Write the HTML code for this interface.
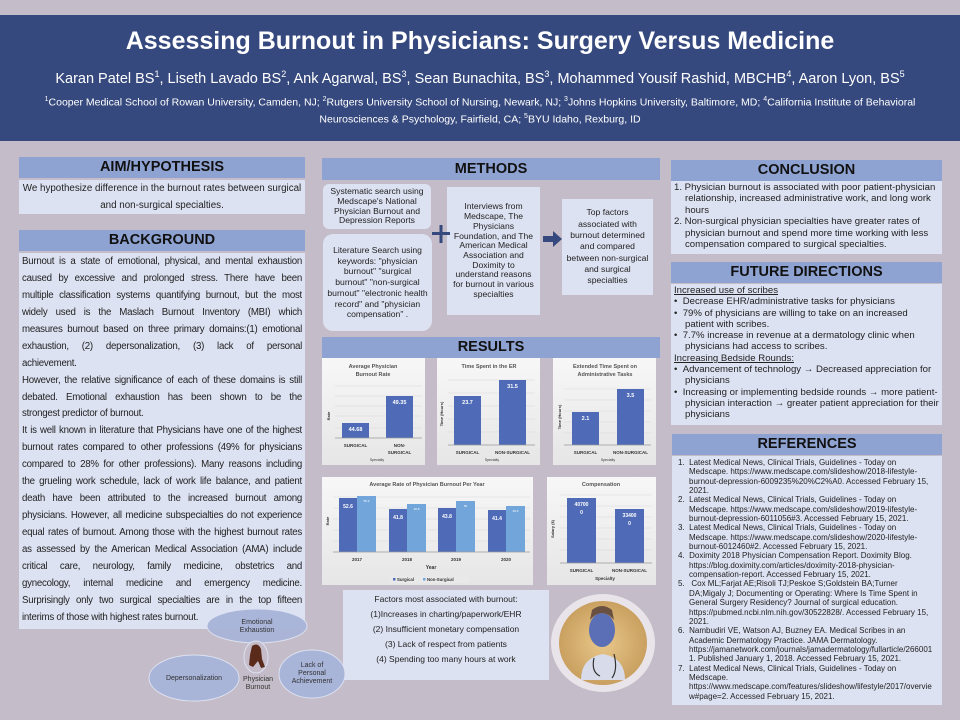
<!DOCTYPE html>
<html><head><meta charset="utf-8">
<style>
*{margin:0;padding:0;box-sizing:border-box}
body{width:960px;height:720px;background:#c4bcc8;position:relative;overflow:hidden;font-family:"Liberation Sans",Arial,sans-serif;color:#222}
.a{position:absolute}
.hdr{background:#8fa3d2;color:#111;font-weight:bold;text-align:center}
.box{background:#dde2f2}
.bg div{text-align:justify;text-align-last:justify;height:16.95px;line-height:16.95px;white-space:nowrap;overflow:hidden}
.bg div.l{text-align-last:left}
.m{background:#dde2f2;text-align:center;font-size:8.6px;line-height:9.7px;display:flex;align-items:center;justify-content:center}
</style></head><body>
<div class="a" style="left:0;top:15px;width:960px;height:126px;background:#36497e;color:#fff;text-align:center">
 <div style="position:absolute;top:12px;width:960px;font-size:25px;font-weight:bold">Assessing Burnout in Physicians: Surgery Versus Medicine</div>
 <div style="position:absolute;top:54px;width:960px;font-size:14.5px">Karan Patel BS<sup style="font-size:9px">1</sup>, Liseth Lavado BS<sup style="font-size:9px">2</sup>, Ank Agarwal, BS<sup style="font-size:9px">3</sup>, Sean Bunachita, BS<sup style="font-size:9px">3</sup>, Mohammed Yousif Rashid, MBCHB<sup style="font-size:9px">4</sup>, Aaron Lyon, BS<sup style="font-size:9px">5</sup></div>
 <div style="position:absolute;top:78px;width:960px;font-size:10.5px;line-height:14px"><sup style="font-size:7px">1</sup>Cooper Medical School of Rowan University, Camden, NJ; <sup style="font-size:7px">2</sup>Rutgers University School of Nursing, Newark, NJ; <sup style="font-size:7px">3</sup>Johns Hopkins University, Baltimore, MD; <sup style="font-size:7px">4</sup>California Institute of Behavioral<br>Neurosciences &amp; Psychology, Fairfield, CA; <sup style="font-size:7px">5</sup>BYU Idaho, Rexburg, ID</div>
</div>

<!-- left -->
<div class="a hdr" style="left:19px;top:157px;width:286px;height:21px;font-size:14.5px;line-height:21px">AIM/HYPOTHESIS</div>
<div class="a box" style="left:19px;top:180px;width:286px;height:34px;font-size:9.8px;text-align:center;line-height:17px;white-space:nowrap">We hypothesize difference in the burnout rates between surgical<br>and non-surgical specialties.</div>
<div class="a hdr" style="left:19px;top:230px;width:286px;height:21px;font-size:14.5px;line-height:21px">BACKGROUND</div>
<div class="a box bg" style="left:19px;top:253px;width:286px;height:376px;font-size:9.7px;letter-spacing:-0.25px;padding:1px 3px">
<div>Burnout is a state of emotional, physical, and mental exhaustion</div>
<div>caused by excessive and prolonged stress. There have been</div>
<div>multiple classification systems quantifying burnout, but the most</div>
<div>widely used is the Maslach Burnout Inventory (MBI) which</div>
<div>measures burnout based on three primary domains:(1) emotional</div>
<div>exhaustion, (2) depersonalization, (3) lack of personal</div>
<div class="l">achievement.</div>
<div>However, the relative significance of each of these domains is still</div>
<div>debated. Emotional exhaustion has been shown to be the</div>
<div class="l">strongest predictor of burnout.</div>
<div>It is well known in literature that Physicians have one of the highest</div>
<div>burnout rates compared to other professions (49% for physicians</div>
<div>compared to 28% for other professions). Many reasons including</div>
<div>the grueling work schedule, lack of work life balance, and patient</div>
<div>death have been attributed to the increased burnout among</div>
<div>physicians. However, all medicine subspecialties do not experience</div>
<div>equal rates of burnout. Among those with the highest burnout rates</div>
<div>as assessed by the American Medical Association (AMA) include</div>
<div>critical care, neurology, family medicine, obstetrics and</div>
<div>gynecology, internal medicine and emergency medicine.</div>
<div>Surprisingly only two surgical specialties are in the top fifteen</div>
<div class="l">interims of those with highest rates burnout.</div>
</div>

<!-- middle -->
<div class="a hdr" style="left:322px;top:158px;width:338px;height:22px;font-size:14.5px;line-height:22px">METHODS</div>
<div class="a m" style="left:323px;top:184px;width:108px;height:45px;border-radius:6px">Systematic search using<br>Medscape's National<br>Physician Burnout and<br>Depression Reports</div>
<div class="a m" style="left:323px;top:234px;width:109px;height:97px;border-radius:10px;line-height:10.7px">Literature Search using<br>keywords: "physician<br>burnout" "surgical<br>burnout" "non-surgical<br>burnout" "electronic health<br>record" and "physician<br>compensation" .</div>
<div class="a m" style="left:447px;top:187px;width:93px;height:128px">Interviews from<br>Medscape, The<br>Physicians<br>Foundation, and The<br>American Medical<br>Association and<br>Doximity to<br>understand reasons<br>for burnout in various<br>specialties</div>
<div class="a m" style="left:562px;top:199px;width:91px;height:96px;line-height:11.3px">Top factors<br>associated with<br>burnout determined<br>and compared<br>between non-surgical<br>and surgical<br>specialties</div>
<div class="a hdr" style="left:322px;top:337px;width:338px;height:21px;font-size:14.5px;line-height:21px">RESULTS</div>
<div class="a box" style="left:343px;top:590px;width:206px;height:90px;font-size:8.5px;text-align:center;line-height:15px;padding-top:2px">Factors most associated with burnout:<br>(1)Increases in charting/paperwork/EHR<br>(2) Insufficient monetary compensation<br>(3) Lack of respect from patients<br>(4) Spending too many hours at work</div>

<svg class="a" style="left:0;top:0" width="960" height="720" font-family="Liberation Sans, Arial, sans-serif">
<defs><linearGradient id="g" x1="0" y1="0" x2="0" y2="1"><stop offset="0" stop-color="#f7f7f7"/><stop offset="1" stop-color="#e6e6e6"/></linearGradient>
<radialGradient id="fire" cx="0.5" cy="0.5" r="0.5"><stop offset="0" stop-color="#e9c88a"/><stop offset="1" stop-color="#c9a060"/></radialGradient></defs>
<rect x="432" y="232" width="18" height="3" fill="#36497e"/><rect x="439.5" y="225" width="3" height="18" fill="#36497e"/>
<polygon points="543,236 553,236 553,231 562,239 553,247 553,242 543,242" fill="#36497e"/>
<g font-weight="bold" fill="#333">
<rect x="322" y="358" width="103" height="107" fill="url(#g)"/>
<g stroke="#d8d8d8" stroke-width="0.6"><line x1="335" y1="386" x2="422" y2="386"/><line x1="335" y1="396" x2="422" y2="396"/><line x1="335" y1="406" x2="422" y2="406"/><line x1="335" y1="416" x2="422" y2="416"/><line x1="335" y1="428" x2="422" y2="428"/></g>
<text x="373" y="368" font-size="5.5" text-anchor="middle" fill="#555">Average Physician</text>
<text x="373" y="376" font-size="5.5" text-anchor="middle" fill="#555">Burnout Rate</text>
<rect x="342" y="423" width="27" height="15" fill="#4f6bb8"/><rect x="386" y="396" width="27" height="42" fill="#4f6bb8"/>
<line x1="335" y1="438" x2="422" y2="438" stroke="#999" stroke-width="0.7"/>
<text x="355.5" y="431" font-size="5.5" fill="#fff" text-anchor="middle">44.68</text>
<text x="399.5" y="404" font-size="5.5" fill="#fff" text-anchor="middle">49.35</text>
<text x="355.5" y="447" font-size="4.5" text-anchor="middle">SURGICAL</text>
<text x="399.5" y="447" font-size="4.5" text-anchor="middle">NON-</text><text x="399.5" y="454" font-size="4.5" text-anchor="middle">SURGICAL</text>
<text x="377" y="461" font-size="3.5" text-anchor="middle" font-weight="normal">Specialty</text>
<text transform="translate(330,416) rotate(-90)" font-size="4" text-anchor="middle">Rate</text>
<rect x="437" y="358" width="103" height="107" fill="url(#g)"/>
<g stroke="#d8d8d8" stroke-width="0.6"><line x1="448" y1="380" x2="535" y2="380"/><line x1="448" y1="393" x2="535" y2="393"/><line x1="448" y1="406" x2="535" y2="406"/><line x1="448" y1="419" x2="535" y2="419"/><line x1="448" y1="432" x2="535" y2="432"/></g>
<text x="489" y="368" font-size="5.5" text-anchor="middle" fill="#555">Time Spent in the ER</text>
<rect x="454" y="396" width="27" height="49" fill="#4f6bb8"/><rect x="499" y="380" width="27" height="65" fill="#4f6bb8"/>
<line x1="448" y1="445" x2="535" y2="445" stroke="#999" stroke-width="0.7"/>
<text x="467.5" y="404" font-size="5.5" fill="#fff" text-anchor="middle">23.7</text>
<text x="512.5" y="388" font-size="5.5" fill="#fff" text-anchor="middle">31.5</text>
<text x="467.5" y="454" font-size="4.5" text-anchor="middle">SURGICAL</text>
<text x="512.5" y="454" font-size="4.5" text-anchor="middle">NON-SURGICAL</text>
<text x="492" y="461" font-size="3.5" text-anchor="middle" font-weight="normal">Specialty</text>
<text transform="translate(443,414) rotate(-90)" font-size="4" text-anchor="middle">Time (Hours)</text>
<rect x="553" y="358" width="103" height="107" fill="url(#g)"/>
<g stroke="#d8d8d8" stroke-width="0.6"><line x1="564" y1="389" x2="651" y2="389"/><line x1="564" y1="400" x2="651" y2="400"/><line x1="564" y1="411" x2="651" y2="411"/><line x1="564" y1="422" x2="651" y2="422"/><line x1="564" y1="433" x2="651" y2="433"/></g>
<text x="605" y="368" font-size="5.5" text-anchor="middle" fill="#555">Extended Time Spent on</text>
<text x="605" y="376" font-size="5.5" text-anchor="middle" fill="#555">Administrative Tasks</text>
<rect x="572" y="412" width="27" height="33" fill="#4f6bb8"/><rect x="617" y="389" width="27" height="56" fill="#4f6bb8"/>
<line x1="564" y1="445" x2="651" y2="445" stroke="#999" stroke-width="0.7"/>
<text x="585.5" y="420" font-size="5.5" fill="#fff" text-anchor="middle">2.1</text>
<text x="630.5" y="397" font-size="5.5" fill="#fff" text-anchor="middle">3.5</text>
<text x="585.5" y="454" font-size="4.5" text-anchor="middle">SURGICAL</text>
<text x="630.5" y="454" font-size="4.5" text-anchor="middle">NON-SURGICAL</text>
<text x="608" y="461" font-size="3.5" text-anchor="middle" font-weight="normal">Specialty</text>
<text transform="translate(561,417) rotate(-90)" font-size="4" text-anchor="middle">Time (Hours)</text>
<rect x="322" y="477" width="211" height="108" fill="url(#g)"/>
<g stroke="#d8d8d8" stroke-width="0.6"><line x1="333" y1="497" x2="530" y2="497"/><line x1="333" y1="508" x2="530" y2="508"/><line x1="333" y1="519" x2="530" y2="519"/><line x1="333" y1="530" x2="530" y2="530"/><line x1="333" y1="541" x2="530" y2="541"/></g>
<text x="427" y="486" font-size="5.5" text-anchor="middle" fill="#555">Average Rate of Physician Burnout Per Year</text>
<g fill="#4f6bb8"><rect x="339" y="498" width="18" height="54"/><rect x="389" y="509" width="18" height="43"/><rect x="438" y="508" width="18" height="44"/><rect x="488" y="510" width="18" height="42"/></g>
<g fill="#72a6da"><rect x="357" y="496" width="19" height="56"/><rect x="407" y="504" width="19" height="48"/><rect x="456" y="501" width="19" height="51"/><rect x="506" y="506" width="19" height="46"/></g>
<line x1="333" y1="552" x2="530" y2="552" stroke="#999" stroke-width="0.7"/>
<g font-size="5" fill="#fff" text-anchor="middle"><text x="348" y="508">52.6</text><text x="398" y="519">41.8</text><text x="447" y="518">43.8</text><text x="497" y="520">41.4</text></g>
<g font-size="3" fill="#fff" text-anchor="middle" font-weight="normal"><text x="366.5" y="502">55.2</text><text x="416.5" y="510">46.8</text><text x="465.5" y="507">50</text><text x="515.5" y="512">45.6</text></g>
<g font-size="4.5" text-anchor="middle"><text x="357" y="561">2017</text><text x="407" y="561">2018</text><text x="456" y="561">2019</text><text x="506" y="561">2020</text></g>
<text x="431" y="569" font-size="5" text-anchor="middle">Year</text>
<rect x="389" y="575" width="80" height="8" fill="#e9e9e9"/>
<rect x="393" y="578" width="2.5" height="2.5" fill="#4f6bb8"/><text x="397" y="581" font-size="4.3">Surgical</text>
<rect x="423" y="578" width="2.5" height="2.5" fill="#72a6da"/><text x="427" y="581" font-size="4.3">Non-Surgical</text>
<text transform="translate(329,521) rotate(-90)" font-size="4" text-anchor="middle">Rate</text>
<rect x="547" y="477" width="109" height="108" fill="url(#g)"/>
<g stroke="#d8d8d8" stroke-width="0.6"><line x1="560" y1="495" x2="652" y2="495"/><line x1="560" y1="506" x2="652" y2="506"/><line x1="560" y1="517" x2="652" y2="517"/><line x1="560" y1="528" x2="652" y2="528"/><line x1="560" y1="539" x2="652" y2="539"/><line x1="560" y1="550" x2="652" y2="550"/></g>
<text x="601" y="486" font-size="5.5" text-anchor="middle" fill="#555">Compensation</text>
<rect x="567" y="498" width="29" height="65" fill="#4f6bb8"/><rect x="615" y="509" width="29" height="54" fill="#4f6bb8"/>
<line x1="560" y1="563" x2="652" y2="563" stroke="#999" stroke-width="0.7"/>
<g font-size="5" fill="#fff" text-anchor="middle"><text x="581.5" y="506">40700</text><text x="581.5" y="514">0</text><text x="629.5" y="517">33400</text><text x="629.5" y="525">0</text></g>
<text x="581.5" y="572" font-size="4.5" text-anchor="middle">SURGICAL</text>
<text x="629.5" y="572" font-size="4.5" text-anchor="middle">NON-SURGICAL</text>
<text x="605" y="580" font-size="4.5" text-anchor="middle">Specialty</text>
<text transform="translate(554,529) rotate(-90)" font-size="4" text-anchor="middle">Salary ($)</text>
</g>
<g font-size="7" fill="#333" text-anchor="middle">
<ellipse cx="257" cy="626" rx="50" ry="17" fill="#a8b4d8" stroke="#dde2f2" stroke-width="1" opacity="0.95"/>
<text x="257" y="624">Emotional</text><text x="257" y="632">Exhaustion</text>
<ellipse cx="194" cy="678" rx="45" ry="23" fill="#a8b4d8" stroke="#dde2f2"/>
<text x="194" y="680">Depersonalization</text>
<ellipse cx="312" cy="674" rx="33" ry="24" fill="#a8b4d8" stroke="#dde2f2"/>
<text x="312" y="667">Lack of</text><text x="312" y="675">Personal</text><text x="312" y="683">Achievement</text>
<ellipse cx="256" cy="657" rx="12" ry="16" fill="#c4bcc8" stroke="#dde2f2"/>
<path d="M252,646 q6,-4 9,3 l1,10 l3,8 l-4,1 l-3,-7 l-5,6 l-4,-2 l1,-10z" fill="#5a2a1a"/>
<text x="258" y="681">Physician</text><text x="258" y="689">Burnout</text>
<ellipse cx="603" cy="643" rx="52" ry="49" fill="#e8e4ea"/>
<ellipse cx="603" cy="643" rx="44" ry="42" fill="url(#fire)"/>
<path d="M581,680 q0,-22 22,-26 q22,4 22,26z" fill="#d8dcea"/>
<ellipse cx="602" cy="630" rx="13" ry="17" fill="#5a6fb5"/>
<path d="M590,620 q12,-14 24,0 l-2,-10 q-10,-8 -20,0z" fill="#6a5040"/>
<path d="M594,658 q-3,14 6,18 M614,654 q4,16 -2,24" stroke="#333" stroke-width="1.2" fill="none"/>
</g>
</svg>

<!-- right -->
<div class="a hdr" style="left:671px;top:160px;width:271px;height:21px;font-size:14.5px;line-height:21px">CONCLUSION</div>
<div class="a box" style="left:671px;top:181px;width:271px;height:73px;font-size:9.6px;line-height:11.4px;padding:1px 3px 0 3px">
<div style="padding-left:11px;text-indent:-11px">1. Physician burnout is associated with poor patient-physician relationship, increased administrative work, and long work hours</div>
<div style="padding-left:11px;text-indent:-11px">2. Non-surgical physician specialties have greater rates of physician burnout and spend more time working with less compensation compared to surgical specialties.</div>
</div>
<div class="a hdr" style="left:671px;top:262px;width:271px;height:21px;font-size:14.5px;line-height:21px">FUTURE DIRECTIONS</div>
<div class="a box" style="left:671px;top:284px;width:271px;height:141px;font-size:9.6px;line-height:11.3px;padding:1px 3px 0 3px">
<div style="text-decoration:underline">Increased use of scribes </div>
<div style="padding-left:11px;text-indent:-11px">•&nbsp;&nbsp;Decrease EHR/administrative tasks for physicians</div>
<div style="padding-left:11px;text-indent:-11px">•&nbsp;&nbsp;79% of physicians are willing to take on an increased patient with scribes.</div>
<div style="padding-left:11px;text-indent:-11px">•&nbsp;&nbsp;7.7% increase in revenue at a dermatology clinic when physicians had access to scribes.</div>
<div style="text-decoration:underline">Increasing Bedside Rounds:</div>
<div style="padding-left:11px;text-indent:-11px">•&nbsp;&nbsp;Advancement of technology → Decreased appreciation for physicians</div>
<div style="padding-left:11px;text-indent:-11px">•&nbsp;&nbsp;Increasing or implementing bedside rounds → more patient-physician interaction → greater patient appreciation for their physicians</div>
</div>
<div class="a hdr" style="left:672px;top:434px;width:270px;height:21px;font-size:14.5px;line-height:21px">REFERENCES</div>
<div class="a box" style="left:672px;top:456px;width:270px;height:249px;font-size:8px;line-height:9.35px;padding:2px 6px 0 3px;overflow-wrap:anywhere">
<div style="padding-left:14px;text-indent:-11px">1.&nbsp; Latest Medical News, Clinical Trials, Guidelines - Today on Medscape. https://www.medscape.com/slideshow/2018-lifestyle-burnout-depression-6009235%20%C2%A0. Accessed February 15, 2021.</div>
<div style="padding-left:14px;text-indent:-11px">2.&nbsp; Latest Medical News, Clinical Trials, Guidelines - Today on Medscape. https://www.medscape.com/slideshow/2019-lifestyle-burnout-depression-6011056#3. Accessed February 15, 2021.</div>
<div style="padding-left:14px;text-indent:-11px">3.&nbsp; Latest Medical News, Clinical Trials, Guidelines - Today on Medscape. https://www.medscape.com/slideshow/2020-lifestyle-burnout-6012460#2. Accessed February 15, 2021.</div>
<div style="padding-left:14px;text-indent:-11px">4.&nbsp; Doximity 2018 Physician Compensation Report. Doximity Blog. https://blog.doximity.com/articles/doximity-2018-physician-compensation-report. Accessed February 15, 2021.</div>
<div style="padding-left:14px;text-indent:-11px">5.&nbsp;&nbsp; Cox ML;Farjat AE;Risoli TJ;Peskoe S;Goldstein BA;Turner DA;Migaly J; Documenting or Operating: Where Is Time Spent in General Surgery Residency? Journal of surgical education. https://pubmed.ncbi.nlm.nih.gov/30522828/. Accessed February 15, 2021.</div>
<div style="padding-left:14px;text-indent:-11px">6.&nbsp; Nambudiri VE, Watson AJ, Buzney EA. Medical Scribes in an Academic Dermatology Practice. JAMA Dermatology. https://jamanetwork.com/journals/jamadermatology/fullarticle/2660011. Published January 1, 2018. Accessed February 15, 2021.</div>
<div style="padding-left:14px;text-indent:-11px">7.&nbsp; Latest Medical News, Clinical Trials, Guidelines - Today on Medscape. https://www.medscape.com/features/slideshow/lifestyle/2017/overview#page=2. Accessed February 15, 2021.</div>
</div>
</body></html>
